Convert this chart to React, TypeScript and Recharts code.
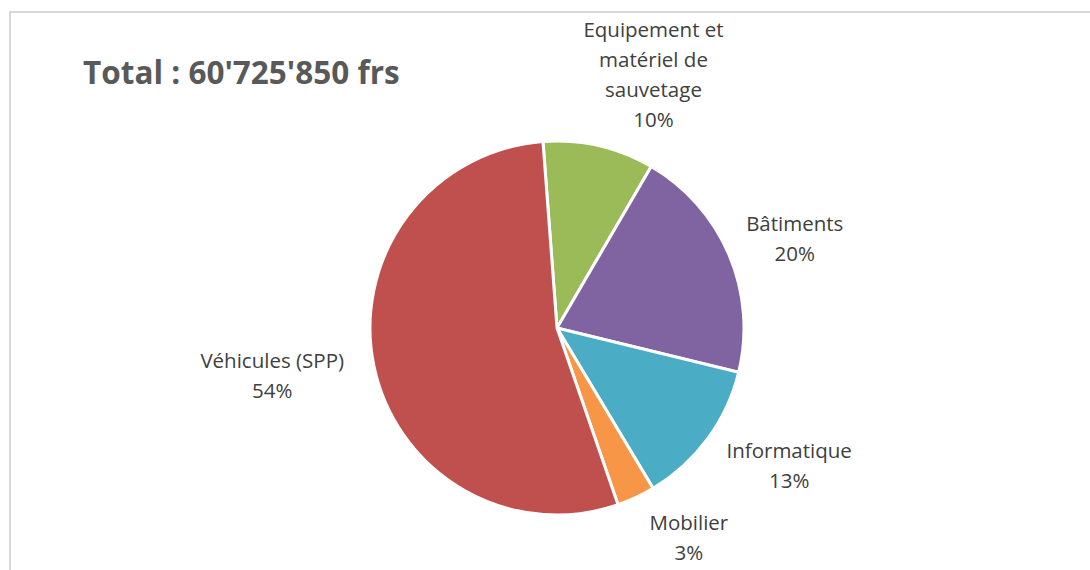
import { Cell, Pie, PieChart } from "recharts";

const categories = [
  "Equipement et\nmatériel de\nsauvetage",
  "Bâtiments",
  "Informatique",
  "Mobilier",
  "Véhicules (SPP)"
];
const shares = [9.6, 20.4, 12.6, 3.3, 54.1];
const colors = ["#9BBB59", "#8064A2", "#4BACC6", "#F79646", "#C0504D"];
const title = "Total : 60'725'850 frs";

const data = categories.map((name, i) => ({ name, value: shares[i] }));

const RAD = Math.PI / 180;
const FONT = "'Open Sans', sans-serif";
const SIZE = 20.5;
const LINE = 30;

const clamp = (v: number) => Math.max(-1, Math.min(1, v));

function renderLabel(props: any) {
  const { cx, cy, midAngle, outerRadius, percent, name } = props;
  const lines = [...String(name).split("\n"), `${Math.round(percent * 100)}%`];
  const dx = Math.cos(-midAngle * RAD);
  const dy = Math.sin(-midAngle * RAD);
  const r = outerRadius + 14;
  const qx = cx + r * dx;
  const qy = cy + r * dy;
  // rough half-width / half-height of the label block
  const w = (Math.max(...lines.map((l) => l.length)) * 0.52 * SIZE) / 2;
  const h = (lines.length * LINE) / 2;
  const x = qx + 1.1 * w * clamp(3 * dx);
  const y = qy + h * dy;
  const top = y - h + LINE / 2;
  return (
    <text
      x={x}
      y={top}
      textAnchor="middle"
      fill="#404040"
      fontFamily={FONT}
      fontSize={SIZE}
    >
      {lines.map((l, i) => (
        <tspan key={i} x={x} y={top + i * LINE} dominantBaseline="central">
          {l}
        </tspan>
      ))}
    </text>
  );
}

export default function App() {
  return (
    <div
      style={{
        position: "absolute",
        left: 0,
        top: 0,
        width: 1090,
        height: 570,
        background: "#fff",
        overflow: "hidden"
      }}
    >
      <div
        style={{
          position: "absolute",
          left: 9,
          top: 11,
          width: 1200,
          height: 700,
          border: "2px solid #d9d9d9"
        }}
      />
      <div
        style={{
          position: "absolute",
          left: 83,
          top: 50,
          fontFamily: FONT,
          fontWeight: 700,
          fontSize: 31.5,
          color: "#595959",
          whiteSpace: "nowrap"
        }}
      >
        {title}
      </div>
      <div style={{ position: "absolute", left: 0, top: 0 }}>
        <PieChart
          width={1090}
          height={570}
          margin={{ top: 0, right: 0, bottom: 0, left: 0 }}
        >
          <Pie
            data={data}
            dataKey="value"
            nameKey="name"
            cx={557}
            cy={328}
            outerRadius={187}
            startAngle={94.3}
            endAngle={-265.7}
            stroke="#fff"
            strokeWidth={3}
            label={renderLabel}
            labelLine={false}
            isAnimationActive={false}
          >
            {data.map((_, i) => (
              <Cell key={i} fill={colors[i]} />
            ))}
          </Pie>
        </PieChart>
      </div>
    </div>
  );
}
